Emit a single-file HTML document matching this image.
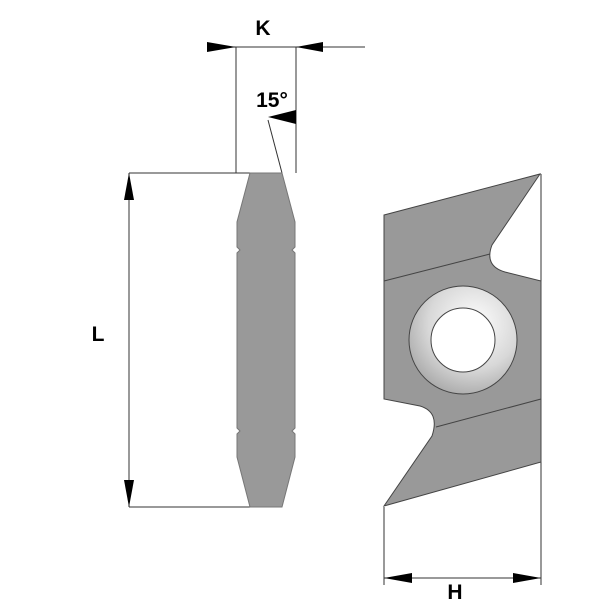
<!DOCTYPE html>
<html><head><style>body{margin:0;background:#fff}svg{display:block}</style></head><body>
<svg width="600" height="600" viewBox="0 0 600 600" xmlns="http://www.w3.org/2000/svg">
<defs><radialGradient id="g" cx="0.6" cy="0.35" r="0.7"><stop offset="0" stop-color="#fff"/><stop offset="0.6" stop-color="#d8d8d8"/><stop offset="1" stop-color="#a8a8a8"/></radialGradient></defs>
<g stroke="#333" stroke-width="1" fill="none">
<line x1="236" y1="47" x2="236" y2="173"/>
<line x1="296" y1="47" x2="296" y2="173"/>
<line x1="207" y1="47" x2="365" y2="47"/>
<line x1="268" y1="120" x2="282" y2="173"/>
<line x1="129" y1="173" x2="250" y2="173"/>
<line x1="129" y1="507" x2="250" y2="507"/>
<line x1="129" y1="173" x2="129" y2="507"/>
<line x1="384" y1="507" x2="384" y2="585"/>
<line x1="541" y1="462" x2="541" y2="585"/>
<line x1="541" y1="174" x2="541" y2="281"/>
<line x1="384" y1="578" x2="541" y2="578"/>
</g>
<g fill="#000">
<polygon points="207,42 236,47 207,52"/>
<polygon points="323,42 296,47 323,52"/>
<polygon points="268,117 296,110 296,124"/>
<polygon points="124,200 129,173 134,200"/>
<polygon points="124,480 129,507 134,480"/>
<polygon points="412,573 384,578 412,583"/>
<polygon points="513,573 541,578 513,583"/>
</g>
<path d="M250,173 L282,173 L295,222 L295,247 L292,250 L295,253 L295,428 L292,431 L295,434 L295,457 L282,507 L250,507 L237,457 L237,434 L240,431 L237,428 L237,253 L240,250 L237,247 L237,222 Z" fill="#999" stroke="#777" stroke-width="1"/>
<path d="M384,215 L540,174 L492,245 Q484,266 505,272 L541,281 L541,462 L384,506 L432,436 Q440,412 420,406 L384,399 Z" fill="#999" stroke="#444" stroke-width="1"/>
<line x1="384" y1="281" x2="490" y2="254" stroke="#444"/>
<line x1="436" y1="427" x2="541" y2="399" stroke="#444"/>
<circle cx="463" cy="340" r="54" fill="url(#g)" stroke="#444"/>
<circle cx="463" cy="340" r="32" fill="#fff" stroke="#444"/>
<g font-family="Liberation Sans, sans-serif" font-weight="bold" font-size="21" fill="#000" text-anchor="middle">
<text x="263" y="35">K</text>
<text x="272" y="107">15°</text>
<text x="98" y="341">L</text>
<text x="455" y="599">H</text>
</g>
</svg>
</body></html>
